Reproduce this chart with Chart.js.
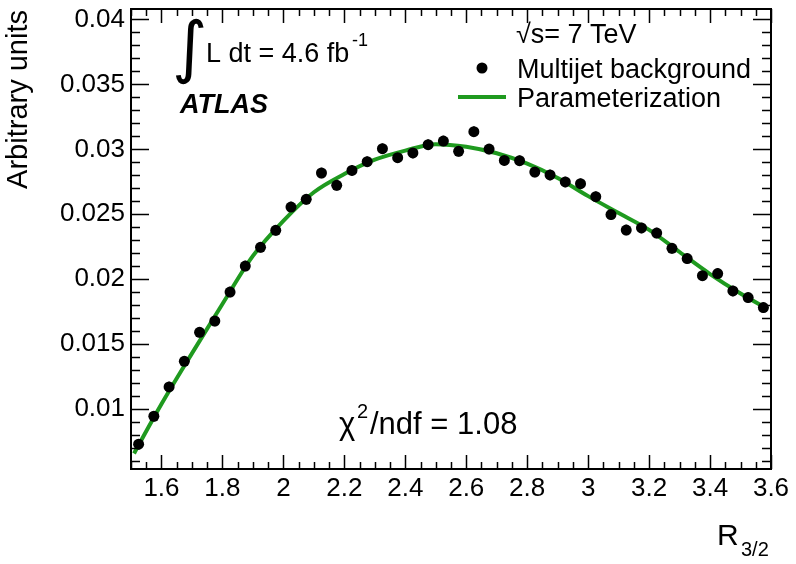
<!DOCTYPE html>
<html>
<head>
<meta charset="utf-8">
<script src="https://cdn.jsdelivr.net/npm/chart.js@4.4.1/dist/chart.umd.min.js"></script>
<style>
  html, body { margin: 0; padding: 0; background: #fff; }
  #wrap { width: 796px; height: 564px; }
</style>
</head>
<body>
<div id="wrap"><canvas id="c" width="796" height="564"></canvas></div>
<script>
// --- Data ---
const binCenters = [1.525, 1.575, 1.625, 1.675, 1.725, 1.775, 1.825, 1.875, 1.925, 1.975,
  2.025, 2.075, 2.125, 2.175, 2.225, 2.275, 2.325, 2.375, 2.425, 2.475,
  2.525, 2.575, 2.625, 2.675, 2.725, 2.775, 2.825, 2.875, 2.925, 2.975,
  3.025, 3.075, 3.125, 3.175, 3.225, 3.275, 3.325, 3.375, 3.425, 3.475,
  3.525, 3.575];
const multijet = [0.00731, 0.00946, 0.01172, 0.01369, 0.01592, 0.01679, 0.01902, 0.02102, 0.02246, 0.02377,
  0.02556, 0.02615, 0.02818, 0.02723, 0.02838, 0.02905, 0.03005, 0.02936, 0.02972, 0.03036,
  0.03064, 0.02985, 0.03136, 0.03002, 0.02915, 0.02913, 0.02825, 0.02803, 0.02749, 0.02736,
  0.02636, 0.02498, 0.02379, 0.02395, 0.02356, 0.02238, 0.02159, 0.02028, 0.02044, 0.01910,
  0.01859, 0.01782];
const multijetErr = [0.0004, 0.0004, 0.0004, 0.0004, 0.0004, 0.0004, 0.0004, 0.0004, 0.0004, 0.0004,
  0.0004, 0.0004, 0.0004, 0.0004, 0.0004, 0.0004, 0.0004, 0.0004, 0.0004, 0.0004,
  0.0004, 0.0004, 0.0004, 0.0004, 0.0004, 0.0004, 0.0004, 0.0004, 0.0004, 0.0004,
  0.0004, 0.0004, 0.0004, 0.0004, 0.0004, 0.0004, 0.0004, 0.0004, 0.0004, 0.0004,
  0.0004, 0.0004];

const fitX = [1.51, 1.6, 1.7, 1.8, 1.9, 2.0, 2.1, 2.2, 2.3, 2.4, 2.5, 2.6, 2.7, 2.8, 2.9, 3.0, 3.1, 3.2, 3.3, 3.4, 3.5, 3.59];
const fitY = [0.0066, 0.0104, 0.0143, 0.0181, 0.0218, 0.0245, 0.0267, 0.0281, 0.0292, 0.0299, 0.0304, 0.0302,
  0.0297, 0.0289, 0.0278, 0.0264, 0.0251, 0.0238, 0.0221, 0.0204, 0.0189, 0.0177];

const xTickVals = [1.6, 1.8, 2.0, 2.2, 2.4, 2.6, 2.8, 3.0, 3.2, 3.4, 3.6];
const xTickLabels = ['1.6', '1.8', '2', '2.2', '2.4', '2.6', '2.8', '3', '3.2', '3.4', '3.6'];
const yTickVals = [0.01, 0.015, 0.02, 0.025, 0.03, 0.035, 0.04];
const yTickLabels = ['0.01', '0.015', '0.02', '0.025', '0.03', '0.035', '0.04'];

const X_MIN = 1.5, X_MAX = 3.6, Y_MIN = 0.0054, Y_MAX = 0.0408;
const GREEN = '#1f9a1f';
const FONT = '"Liberation Sans", Arial, Helvetica, sans-serif';

// --- Plugins: error bars, ROOT-style frame with inward ticks, annotations ---
const errorBars = {
  id: 'errorBars',
  beforeDatasetsDraw(chart) {
    const { ctx, scales: { x, y } } = chart;
    ctx.save();
    ctx.strokeStyle = '#000';
    ctx.lineWidth = 2;
    ctx.beginPath();
    binCenters.forEach((b, i) => {
      const px = x.getPixelForValue(b);
      ctx.moveTo(px, y.getPixelForValue(multijet[i] - multijetErr[i]));
      ctx.lineTo(px, y.getPixelForValue(multijet[i] + multijetErr[i]));
    });
    ctx.stroke();
    ctx.restore();
  }
};

const frame = {
  id: 'frame',
  afterDraw(chart) {
    const { ctx, chartArea: a, scales: { x, y } } = chart;
    ctx.save();
    ctx.strokeStyle = '#000';
    ctx.lineWidth = 1.5;
    ctx.beginPath();
    // x ticks (bottom and top)
    for (let v = 1.5; v <= 3.6001; v += 0.05) {
      const major = xTickVals.some(t => Math.abs(t - v) < 1e-6);
      const len = major ? 14 : 7;
      const px = Math.round(x.getPixelForValue(v)) + 0.5;
      ctx.moveTo(px, a.bottom); ctx.lineTo(px, a.bottom - len);
      ctx.moveTo(px, a.top); ctx.lineTo(px, a.top + len);
    }
    // y ticks (left and right)
    for (let v = 0.006; v <= 0.04001; v += 0.001) {
      const major = yTickVals.some(t => Math.abs(t - v) < 1e-6);
      const len = major ? 18 : 9;
      const py = Math.round(y.getPixelForValue(v)) + 0.5;
      ctx.moveTo(a.left, py); ctx.lineTo(a.left + len, py);
      ctx.moveTo(a.right, py); ctx.lineTo(a.right - len, py);
    }
    ctx.stroke();
    ctx.lineWidth = 2;
    ctx.strokeRect(a.left, a.top, a.right - a.left, a.bottom - a.top);

    ctx.fillStyle = '#000';
    ctx.textBaseline = 'alphabetic';
    ctx.textAlign = 'left';

    // luminosity
    ctx.font = '68px "DejaVu Sans", sans-serif';
    ctx.fillText('\u222B', 172, 70);
    ctx.font = '27px ' + FONT;
    ctx.fillText('L dt = 4.6 fb', 206, 62);
    ctx.font = '18px ' + FONT;
    ctx.fillText('-1', 352, 46);

    // ATLAS
    ctx.font = 'italic bold 27px ' + FONT;
    ctx.fillText('ATLAS', 180, 113);

    // sqrt(s)
    ctx.font = '27px ' + FONT;
    ctx.fillText('\u221As= 7 TeV', 516, 43);

    // legend
    ctx.fillText('Multijet background', 517, 78);
    ctx.fillText('Parameterization', 517, 107);
    ctx.beginPath();
    ctx.arc(482, 68, 5.5, 0, Math.PI * 2);
    ctx.fill();
    ctx.strokeStyle = GREEN;
    ctx.lineWidth = 4;
    ctx.beginPath();
    ctx.moveTo(458, 97); ctx.lineTo(506, 97);
    ctx.stroke();

    // chi2
    ctx.font = '31px ' + FONT;
    ctx.fillText('\u03C7', 339, 434);
    ctx.font = '20px ' + FONT;
    ctx.fillText('2', 357, 418);
    ctx.font = '31px ' + FONT;
    ctx.fillText('/ndf = 1.08', 370, 434);

    // x title
    ctx.font = '30px ' + FONT;
    ctx.fillText('R', 717, 545);
    ctx.font = '20px ' + FONT;
    ctx.fillText('3/2', 741, 556);

    // y title
    ctx.save();
    ctx.translate(27, 10);
    ctx.rotate(-Math.PI / 2);
    ctx.textAlign = 'right';
    ctx.font = '29px ' + FONT;
    ctx.fillText('Arbitrary units', 0, 0);
    ctx.restore();

    ctx.restore();
  }
};

// --- Chart ---
const chart = new Chart(document.getElementById('c'), {
  type: 'scatter',
  data: {
    datasets: [
      {
        label: 'Parameterization',
        type: 'line',
        data: fitX.map((v, i) => ({ x: v, y: fitY[i] })),
        borderColor: GREEN,
        borderWidth: 4,
        pointRadius: 0,
        fill: false,
        cubicInterpolationMode: 'monotone',
        order: 2
      },
      {
        label: 'Multijet background',
        data: binCenters.map((v, i) => ({ x: v, y: multijet[i] })),
        backgroundColor: '#000',
        borderColor: '#000',
        pointRadius: 5.5,
        pointBorderWidth: 0,
        order: 1
      }
    ]
  },
  options: {
    responsive: false,
    animation: false,
    devicePixelRatio: 1,
    layout: { padding: { top: 9, right: 25, bottom: 0, left: 0 } },
    plugins: { legend: { display: false }, tooltip: { enabled: false } },
    scales: {
      x: {
        type: 'linear', min: X_MIN, max: X_MAX,
        grid: { display: false, drawTicks: false },
        border: { display: false },
        afterBuildTicks: s => { s.ticks = xTickVals.map(v => ({ value: v })); },
        afterFit: s => { s.height = 95; s.paddingLeft = 0; s.paddingRight = 0; },
        ticks: {
          autoSkip: false, maxRotation: 0, padding: 4, color: '#000',
          font: { family: FONT, size: 26 },
          callback: (v, i) => xTickLabels[i]
        }
      },
      y: {
        type: 'linear', min: Y_MIN, max: Y_MAX,
        grid: { display: false, drawTicks: false },
        border: { display: false },
        afterBuildTicks: s => { s.ticks = yTickVals.map(v => ({ value: v })); },
        afterFit: s => { s.width = 131; s.paddingTop = 0; s.paddingBottom = 0; },
        ticks: {
          autoSkip: false, padding: 6, color: '#000',
          font: { family: FONT, size: 26 },
          callback: (v, i) => yTickLabels[i]
        }
      }
    }
  },
  plugins: [errorBars, frame]
});
</script>
</body>
</html>
